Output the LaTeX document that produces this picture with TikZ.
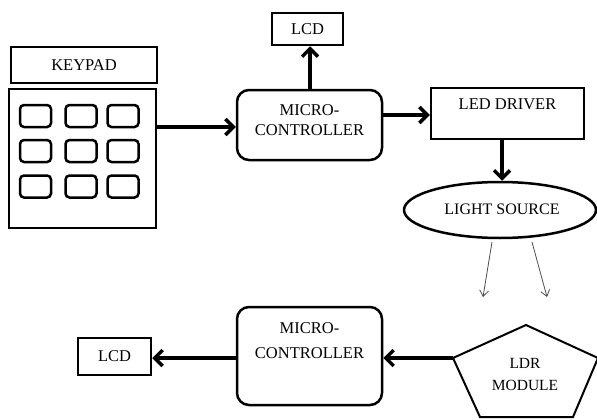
\documentclass[tikz,border=0pt]{standalone}
\usepackage{fontspec}
\setmainfont{Liberation Serif}
\usetikzlibrary{arrows.meta,shapes.geometric}
\begin{document}
\begin{tikzpicture}[x=1pt,y=-1pt,
 box/.style={draw,line width=2.5pt,inner sep=0pt},
 rbox/.style={box,rounded corners=12pt},
 key/.style={draw,line width=2.5pt,rounded corners=4pt,minimum width=31pt,minimum height=22pt,inner sep=0pt},
 txt/.style={font=\fontsize{16.5}{20}\selectfont,align=center,inner sep=0pt},
 bigarrow/.style={line width=3.5pt,-{Straight Barb[length=8pt,width=16pt]}},
 thinarrow/.style={draw=black!70,line width=0.8pt,-{Straight Barb[length=6pt,width=9pt]}}]
\useasboundingbox (0,0) rectangle (597,420);
% keypad
\node[box,minimum width=146pt,minimum height=36pt,txt] (kplabel) at (84,65) {KEYPAD};
\node[box,minimum width=147pt,minimum height=139pt] (kpbody) at (82.5,158.5) {};
\foreach \i/\x in {1/35.5,2/81,3/123}{
  \foreach \j/\y in {1/116,2/151,3/186.5}{
    \node[key] (key\i\j) at (\x,\y) {};
  }
}
% top chain
\node[rbox,minimum width=145pt,minimum height=70pt] (mc1) at (309.5,125) {};
\node[txt] (mc1t) at (309.5,120) {MICRO-\\CONTROLLER};
\node[box,minimum width=71pt,minimum height=32pt,txt] (lcd1) at (307.5,29) {LCD};
\node[box,minimum width=153pt,minimum height=51pt] (led) at (507.5,113.5) {};
\node[txt] (ledt) at (507.5,104) {LED DRIVER};
\node[draw,ellipse,line width=2.5pt,minimum width=192pt,minimum height=56pt,inner sep=0pt] (ls) at (500,210) {};
\node[txt,font=\fontsize{16}{20}\selectfont] (lst) at (502,209) {LIGHT SOURCE};
% bottom chain
\coordinate (pt) at (526,325);
\coordinate (pl) at (453,358);
\coordinate (pr) at (598,358);
\coordinate (pbr) at (573,417);
\coordinate (pbl) at (480,417);
\draw[line width=2pt,line join=miter] (pt) -- (pr) -- (pbr) -- (pbl) -- (pl) -- cycle;
\node[txt,font=\fontsize{15.5}{22}\selectfont] (ldr) at (525,374) {LDR\\MODULE};
\node[rbox,minimum width=145pt,minimum height=98pt] (mc2) at (309.5,356) {};
\node[txt,font=\fontsize{16.5}{24.5}\selectfont] (mc2t) at (309.5,340.5) {MICRO-\\CONTROLLER};
\node[box,minimum width=73pt,minimum height=37pt,txt] (lcd2) at (114.5,356.5) {LCD};
% thin arrows
\coordinate (s1) at (492,242);
\coordinate (s2) at (532,242);
\coordinate (r1) at (483,297);
\coordinate (r2) at (547,297);
% connectors
\draw[bigarrow] (kpbody.east |- 0,127) -- (mc1.west |- 0,127);
\draw[bigarrow] (mc1.north -| 310,0) -- (lcd1.south -| 310,0);
\draw[bigarrow] (mc1.east |- 0,115) -- (led.west |- 0,115);
\draw[bigarrow] (led.south -| 502,0) -- (ls.north -| 502,0);
\draw[thinarrow] (s1) -- (r1);
\draw[thinarrow] (s2) -- (r2);
\draw[bigarrow] (pl) -- (mc2.east |- pl);
\draw[bigarrow] (mc2.west |- 0,358) -- (lcd2.east |- 0,358);
\end{tikzpicture}
\end{document}
